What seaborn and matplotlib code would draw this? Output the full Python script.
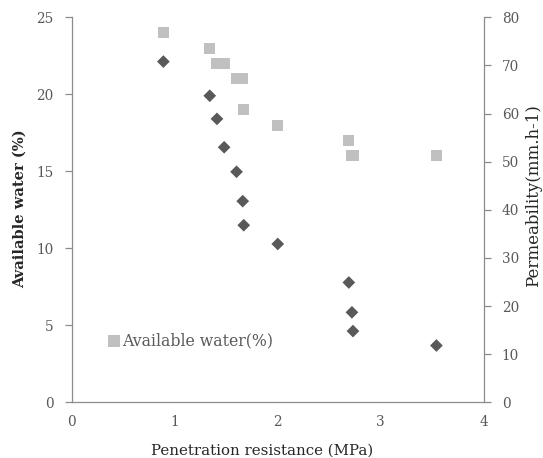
import matplotlib
matplotlib.use("Agg")
import matplotlib.pyplot as plt
import seaborn as sns
import pandas as pd

# Data
penetration = [0.89, 1.34, 1.41, 1.48, 1.60, 1.66, 1.67, 2.00, 2.69, 2.72, 2.73, 3.54]
available_water = [24, 23, 22, 22, 21, 21, 19, 18, 17, 16, 16, 16]
permeability = [70.8, 63.7, 58.9, 53.0, 47.9, 41.8, 36.8, 32.9, 24.9, 18.7, 14.8, 11.8]

x_ticks = [0, 1, 2, 3, 4]
left_ticks = [0, 5, 10, 15, 20, 25]
right_ticks = [0, 10, 20, 30, 40, 50, 60, 70, 80]

df = pd.DataFrame({"pr": penetration, "aw": available_water, "perm": permeability})

sns.set_style("white")
plt.rcParams["font.family"] = ["DejaVu Serif"]

fig = plt.figure(figsize=(5.43, 4.58), dpi=100)
ax = fig.add_axes([0.132, 0.1216, 0.759, 0.8406])
ax2 = ax.twinx()

sns.scatterplot(data=df, x="pr", y="aw", ax=ax, marker="s", s=64, color="#c0c0c0",
                edgecolor="none", linewidth=0, label="Available water(%)", zorder=3)
sns.scatterplot(data=df, x="pr", y="perm", ax=ax2, marker="D", s=42, color="#595959",
                edgecolor="none", linewidth=0, legend=False, zorder=3)

ax.set_xlim(0, 4)
ax.set_ylim(0, 25)
ax2.set_ylim(0, 80)
ax.set_xticks(x_ticks)
ax.set_yticks(left_ticks)
ax2.set_yticks(right_ticks)

spine_c = "#8c8c8c"
for a in (ax, ax2):
    for side, sp in a.spines.items():
        sp.set_color(spine_c)
        sp.set_linewidth(0.9)
    a.spines["top"].set_visible(False)
    a.tick_params(axis="both", direction="out", length=5, width=0.9, color=spine_c,
                  labelsize=9.8, labelcolor="#595959")
    a.grid(False)
ax.tick_params(axis="x", pad=4)
ax.tick_params(axis="y", pad=8, right=False)
ax2.tick_params(axis="y", pad=8, left=False, labelleft=False)
ax.spines["right"].set_visible(False)
ax2.spines["left"].set_visible(False)
ax2.spines["bottom"].set_visible(False)

lab_c = "#262626"
ax.set_xlabel("Penetration resistance (MPa)", fontsize=10.8, color=lab_c)
ax.set_ylabel("Available water (%)", fontsize=10.5, color=lab_c, fontweight="bold")
ax2.set_ylabel("Permeability(mm.h-1)", fontsize=12, color=lab_c)

ax.xaxis.set_label_coords(0.4616, -0.1265)
ax.xaxis.label.set_verticalalignment("center")
ax.yaxis.set_label_coords(-0.1254, 0.502)
ax.yaxis.label.set_verticalalignment("center")
ax2.yaxis.set_label_coords(1.121, 0.538)
ax2.yaxis.label.set_verticalalignment("center")

leg = ax.legend(loc="center left", bbox_to_anchor=(0.0833, 0.1605), frameon=False,
                fontsize=11.3, handlelength=1.0, handletextpad=0.05, markerscale=1.1,
                borderpad=0, borderaxespad=0)
for t in leg.get_texts():
    t.set_color("#595959")

fig.savefig("out.png", dpi=100)
